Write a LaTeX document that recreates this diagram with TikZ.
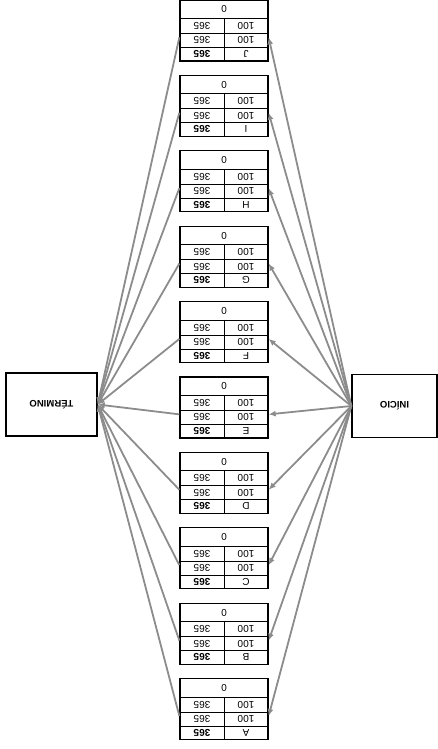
\documentclass[tikz,border=0pt]{standalone}
\usepackage{graphicx}
\usepackage{fontspec}
\setmainfont{Liberation Sans}
\usetikzlibrary{arrows.meta,positioning}

\newcommand{\upd}[1]{\rotatebox[origin=c]{180}{#1}}

\begin{document}
\begin{tikzpicture}[
    x=1pt, y=-1pt,
    endbox/.style={rectangle, draw, line width=1.4pt, minimum width=88pt, minimum height=63pt, align=center, font=\fontsize{9.5}{9.5}\selectfont\bfseries},
    actbox/.style={rectangle, draw, line width=1.3pt, minimum width=88pt, minimum height=61pt, inner sep=0pt},
    cell/.style={inner sep=0pt, font=\fontsize{10}{10}\selectfont},
    flow/.style={-{Latex[length=7pt,width=6pt]}, draw=black!45, line width=1.8pt},
]
    \useasboundingbox (0,0) rectangle (438,749);

    % Start and end
    \node[endbox, minimum width=85pt] (inicio) at (394.5, 406) {\upd{INÍCIO}};
    \node[endbox, minimum width=91pt] (termino) at (51.5, 404.5) {\upd{TÉRMINO}};

    % === ACTIVITIES (upside down) ===
    \foreach \lt/\n [count=\i from 0] in {J/j, I/i, H/h, G/g, F/f, E/e, D/d, C/c, B/b, A/a} {
        \node[actbox] (\n) at (224, 30.5+75.4*\i) {};
        % rows
        \draw[line width=0.9pt] ([yshift=-19pt]\n.north west) -- ([yshift=-19pt]\n.north east);
        \draw[line width=0.9pt] ([yshift=-34pt]\n.north west) -- ([yshift=-34pt]\n.north east);
        \draw[line width=0.9pt] ([yshift=-48pt]\n.north west) -- ([yshift=-48pt]\n.north east);
        \draw[line width=0.9pt] ([yshift=-19pt]\n.north) -- (\n.south);
        % texts
        \node[cell] at ([yshift=-10pt]\n.north) {\upd{0}};
        \node[cell] at ([xshift=-22pt, yshift=-26.5pt]\n.north) {\upd{365}};
        \node[cell] at ([xshift=22pt, yshift=-26.5pt]\n.north) {\upd{100}};
        \node[cell] at ([xshift=-22pt, yshift=-41pt]\n.north) {\upd{365}};
        \node[cell] at ([xshift=22pt, yshift=-41pt]\n.north) {\upd{100}};
        \node[cell, font=\fontsize{10}{10}\selectfont\bfseries] at ([xshift=-22pt, yshift=-54.5pt]\n.north) {\upd{365}};
        \node[cell] at ([xshift=22pt, yshift=-54.5pt]\n.north) {\upd{\lt}};

        % connectors
        \draw[flow] (inicio.west) -- ([yshift=-38pt]\n.north east);
        \draw[flow] ([yshift=-38pt]\n.north west) -- (termino.east);
    }

\end{tikzpicture}
\end{document}
